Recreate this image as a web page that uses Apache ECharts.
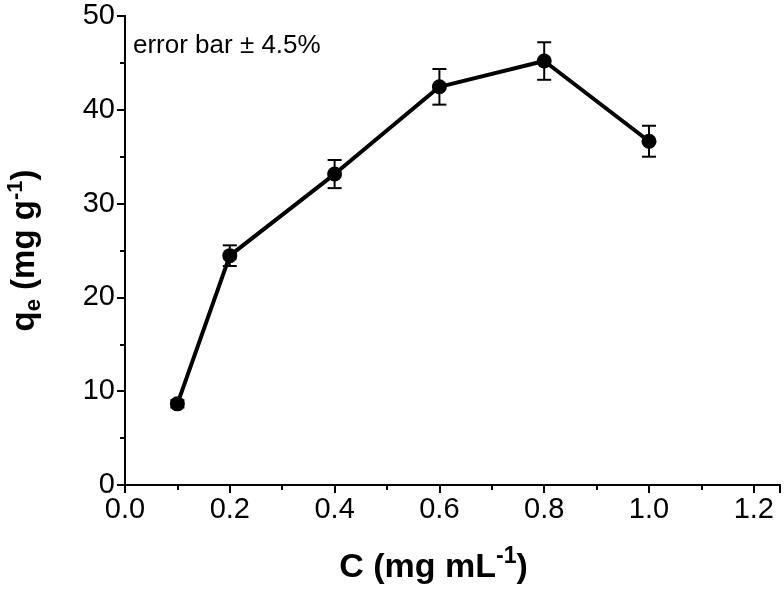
<!DOCTYPE html>
<html>
<head>
	<meta charset="utf-8">
	<title></title>
	<script src="https://cdn.jsdelivr.net/npm/echarts@6/dist/echarts.min.js"></script>
	<style>
	html, body { margin: 0; padding: 0; background: #fff; }
	#main { width: 784px; height: 593px; }
	</style>
</head>
<body>
	<div id="main"></div>
	<script>
		// concentration (mg/mL) and adsorption capacity qe (mg/g)
		var conc = [0.1, 0.2, 0.4, 0.6, 0.8, 1.0];
		var qe = [8.65, 24.45, 33.15, 42.45, 45.2, 36.65];
		// error bar half-widths (about 4.5 %)
		var qeErr = [0.39, 1.1, 1.5, 1.9, 2.0, 1.65];

		var font = 'Liberation Sans, Arial, sans-serif';
		var myChart = echarts.init(document.getElementById('main'));

		var lineData = [];
		var errData = [];
		for (var i = 0; i < conc.length; i++) {
			lineData.push([conc[i], qe[i]]);
			errData.push([conc[i], qe[i] - qeErr[i], qe[i] + qeErr[i]]);
		}

		var axisBase = {
			axisLine: { show: true, onZero: false, lineStyle: { color: '#000', width: 2 } },
			splitLine: { show: false },
			axisTick: { show: true, inside: false, length: 8, lineStyle: { color: '#000', width: 2 } },
			minorTick: { show: true, splitNumber: 2, length: 5, lineStyle: { color: '#000', width: 2 } }
		};

		var option = {
			animation: false,
			grid: { left: 125, right: 4, top: 16, bottom: 108, containLabel: false, outerBoundsMode: 'none' },
			title: {
				text: 'error bar \u00b1 4.5%',
				left: 128, top: 28,
				textStyle: { fontSize: 26, fontWeight: 'normal', color: '#000', fontFamily: font }
			},
			xAxis: [
				Object.assign({}, axisBase, {
					type: 'value', min: 0, max: 1.25, interval: 0.2,
					axisLabel: { color: '#000', fontSize: 29, fontFamily: font, margin: 10, showMaxLabel: false,
						formatter: function (v) { return v.toFixed(1); } },
					name: '{b|C (mg mL}{sup|-1}{b|)}',
					nameLocation: 'middle', nameGap: 60,
					nameTextStyle: {
						padding: [0, 38, 0, 0],
						rich: {
							b: { fontSize: 34, fontWeight: 'bold', fontFamily: font, color: '#000', lineHeight: 40, verticalAlign: 'bottom' },
							sup: { fontSize: 23, fontWeight: 'bold', fontFamily: font, color: '#000', lineHeight: 40, verticalAlign: 'top' }
						}
					}
				}),
				{
					type: 'value', min: 0, max: 1.25, position: 'top',
					axisLine: { show: true, lineStyle: { color: '#000', width: 2 } },
					axisTick: { show: false }, axisLabel: { show: false }, splitLine: { show: false }
				}
			],
			yAxis: [
				Object.assign({}, axisBase, {
					type: 'value', min: 0, max: 50, interval: 10,
					axisLabel: { color: '#000', fontSize: 29, fontFamily: font, margin: 10 },
					name: '{b|q}{sub|e}{b| (mg g}{sup|-1}{b|)}',
					nameLocation: 'middle', nameGap: 80, nameRotate: 90,
					nameTextStyle: {
						rich: {
							b: { fontSize: 33, fontWeight: 'bold', fontFamily: font, color: '#000', lineHeight: 40, verticalAlign: 'middle' },
							sub: { fontSize: 22, fontWeight: 'bold', fontFamily: font, color: '#000', lineHeight: 40, verticalAlign: 'bottom' },
							sup: { fontSize: 22, fontWeight: 'bold', fontFamily: font, color: '#000', lineHeight: 40, verticalAlign: 'top' }
						}
					}
				}),
				{
					type: 'value', min: 0, max: 50, position: 'right',
					axisLine: { show: true, lineStyle: { color: '#000', width: 2 } },
					axisTick: { show: false }, axisLabel: { show: false }, splitLine: { show: false }
				}
			],
			series: [
				{
					type: 'line',
					data: lineData,
					symbol: 'circle',
					symbolSize: 15,
					itemStyle: { color: '#000' },
					lineStyle: { color: '#000', width: 4 },
					z: 3
				},
				{
					type: 'custom',
					data: errData,
					z: 4,
					renderItem: function (params, api) {
						var x = api.value(0);
						var lo = api.coord([x, api.value(1)]);
						var hi = api.coord([x, api.value(2)]);
						var w = 7;
						var st = { stroke: '#000', lineWidth: 2 };
						return {
							type: 'group',
							children: [
								{ type: 'line', shape: { x1: lo[0], y1: lo[1], x2: hi[0], y2: hi[1] }, style: st },
								{ type: 'line', shape: { x1: lo[0] - w, y1: lo[1], x2: lo[0] + w, y2: lo[1] }, style: st },
								{ type: 'line', shape: { x1: hi[0] - w, y1: hi[1], x2: hi[0] + w, y2: hi[1] }, style: st }
							]
						};
					}
				}
			]
		};
		myChart.setOption(option);
	</script>
</body>
</html>
